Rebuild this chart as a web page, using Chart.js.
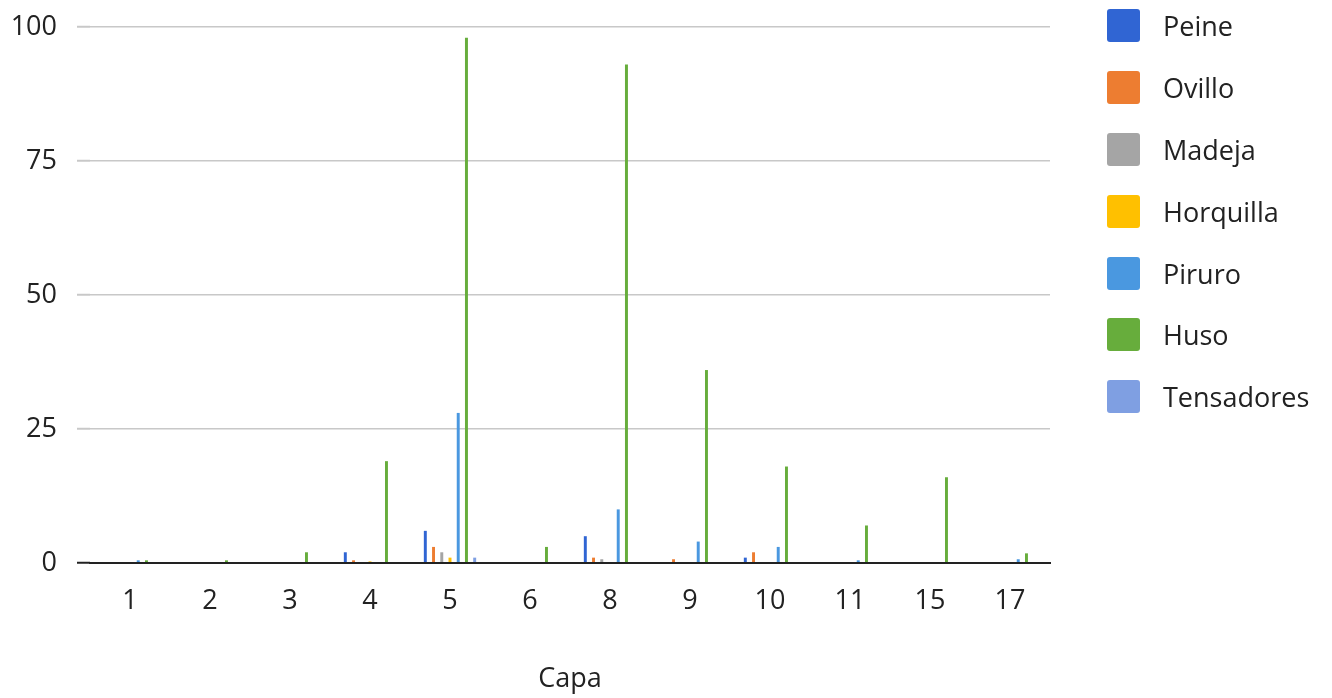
<!DOCTYPE html>
<html>
<head>
<meta charset="utf-8">
<script src="https://cdn.jsdelivr.net/npm/chart.js@4"></script>
<style>
  body { margin: 0; background: #fff; }
  #wrap { position: relative; width: 1332px; height: 698px; }
  #legend { position: absolute; left: 1107px; top: -5px; font-family: 'Open Sans', sans-serif; font-size: 27px; color: #222; }
  .item { display: flex; align-items: center; height: 61.8px; }
  .box { width: 33px; height: 33px; border-radius: 3px; margin-right: 23px; }
</style>
</head>
<body>
<div id="wrap">
  <canvas id="capaChart" width="1332" height="698"></canvas>
  <div id="legend"></div>
</div>
<script>
// Categories (capa) and counts per tool
const capas = ["1", "2", "3", "4", "5", "6", "8", "9", "10", "11", "15", "17"];
const seriesNames = ["Peine", "Ovillo", "Madeja", "Horquilla", "Piruro", "Huso", "Tensadores"];
const seriesColors = ["#3065d3", "#ed7d31", "#a5a5a5", "#ffc000", "#4a98e0", "#67ad3c", "#7f9fe2"];

const peine      = [0,   0,   0,   2,   6,  0,   5,   0,   1,   0,   0,  0];
const ovillo     = [0,   0,   0,   0.5, 3,  0,   1,   0.7, 2,   0,   0,  0];
const madeja     = [0,   0,   0,   0,   2,  0,   0.7, 0,   0,   0,   0,  0];
const horquilla  = [0,   0,   0,   0.3, 1,  0,   0,   0,   0,   0,   0,  0];
const piruro     = [0.5, 0,   0,   0,   28, 0,   10,  4,   3,   0.5, 0,  0.7];
const huso       = [0.5, 0.5, 2,   19,  98, 3,   93,  36,  18,  7,   16, 1.8];
const tensadores = [0,   0,   0,   0,   1,  0,   0,   0,   0,   0,   0,  0];

const yTicks = [0, 25, 50, 75, 100];

let allSeries = [peine, ovillo, madeja, horquilla, piruro, huso, tensadores];

Chart.defaults.font.family = "'Open Sans', sans-serif";
Chart.defaults.font.size = 27;
Chart.defaults.color = "#222";

let ctx = document.getElementById("capaChart").getContext("2d");
let chart = new Chart(ctx, {
  type: "bar",
  data: {
    labels: capas,
    datasets: seriesNames.map((name, i) => ({
      label: name,
      data: allSeries[i],
      backgroundColor: seriesColors[i],
      categoryPercentage: 0.72,
      barPercentage: 0.36,
    })),
  },
  options: {
    responsive: false,
    animation: false,
    layout: { padding: { top: 27, right: 282, bottom: 0, left: 0 } },
    plugins: { legend: { display: false }, tooltip: { enabled: false } },
    scales: {
      x: {
        grid: { display: false, drawTicks: false },
        border: { color: "#222", width: 2, z: 1 },
        ticks: { padding: 22 },
        title: { display: true, text: "Capa", padding: { top: 0, bottom: 2 } },
        afterFit: (scale) => { scale.height = 135; },
      },
      y: {
        min: 0,
        max: 100,
        afterBuildTicks: (scale) => { scale.ticks = yTicks.map((v) => ({ value: v })); },
        grid: {
          color: (c) => (c.tick && c.tick.value === 0 ? "rgba(0,0,0,0)" : "#c8c8c8"),
          tickColor: (c) => (c.tick && c.tick.value === 0 ? "#222" : "#c8c8c8"),
          lineWidth: 1.5,
          tickWidth: 2,
          drawTicks: true,
          tickLength: 13,
        },
        border: { display: false },
        ticks: { padding: 20 },
        afterFit: (scale) => {
          scale.width = 90;
          scale.paddingTop = 0;
          scale.paddingBottom = 0;
        },
      },
    },
  },
});

// legend built from the datasets
let legend = document.getElementById("legend");
chart.data.datasets.forEach((ds) => {
  let row = document.createElement("div");
  row.className = "item";
  row.innerHTML = '<div class="box" style="background:' + ds.backgroundColor + '"></div><span>' + ds.label + "</span>";
  legend.appendChild(row);
});
</script>
</body>
</html>
